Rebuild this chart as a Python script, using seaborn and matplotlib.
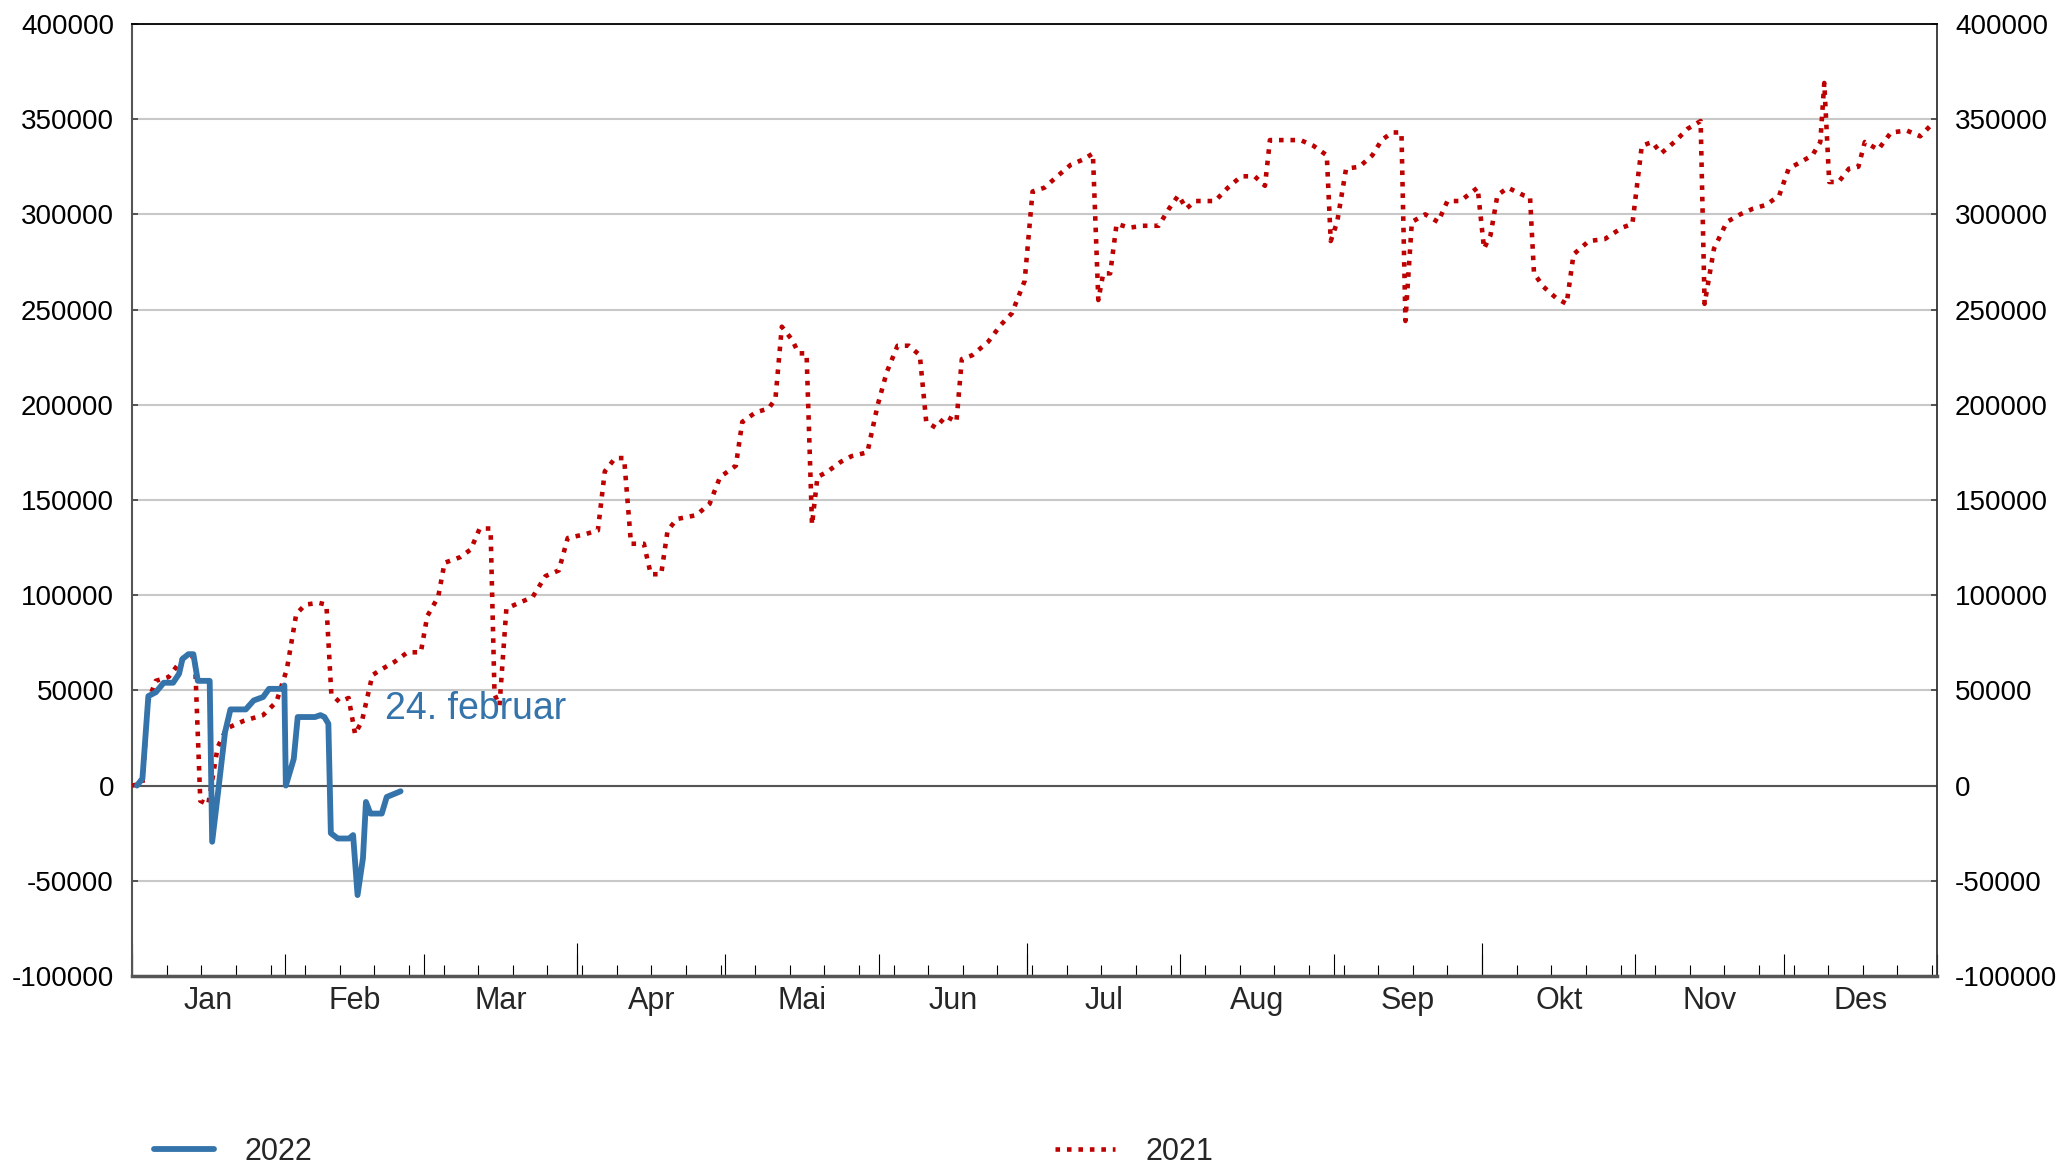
import numpy as np
import pandas as pd
import seaborn as sns
import matplotlib.pyplot as plt

# day of year (0 = 1 Jan) and cumulative value
days_2021 = [0, 2.1, 3.2, 4.8, 7.4, 10.6, 12.7, 13.8, 15.4, 17.3, 19.1, 22.6, 26.5, 29.2,
             31.3, 33.2, 35.0, 37.7, 39.3, 40.3, 41.9, 43.8, 45.1, 46.5, 48.6, 50.4, 53.1,
             55.7, 58.4, 59.7, 61.9, 63.2, 66.4, 68.5, 70.3, 72.5, 73.3, 74.3, 75.7, 78.3,
             81.0, 83.6, 86.3, 88.1, 91.6, 94.2, 95.6, 97.7, 99.5, 100.9, 103.5, 104.9,
             107.0, 108.3, 110.2, 114.1, 116.8, 118.9, 122.1, 123.4, 126.1, 128.7, 130.1,
             131.4, 133.5, 134.8, 136.4, 137.5, 138.6, 140.7, 143.3, 145.5, 148.7, 150.8,
             152.6, 154.8, 157.1, 159.3, 160.6, 162.5, 164.6, 166.7, 167.8, 169.9, 173.1,
             175.7, 177.9, 180.5, 182.1, 184.5, 187.1, 189.8, 192.5, 194.3, 195.4, 196.4,
             197.8, 199.1, 201.7, 204.4, 207.6, 209.7, 211.6, 213.2, 215.0, 219.0, 221.6,
             224.3, 227.0, 229.1, 230.1, 232.3, 236.3, 238.9, 241.6, 242.4, 243.7, 245.5,
             248.2, 250.8, 252.7, 254.8, 256.7, 257.5, 258.8, 261.5, 264.1, 266.0, 268.6,
             272.1, 273.4, 274.7, 276.1, 278.2, 281.4, 282.7, 283.5, 285.4, 288.0, 290.1,
             291.5, 294.6, 297.8, 301.3, 303.4, 305.3, 307.4, 309.2, 311.9, 314.6, 317.2,
             318.0, 319.9, 322.5, 325.2, 327.8, 330.5, 333.1, 335.0, 337.1, 339.8, 341.4,
             342.2, 343.2, 345.1, 347.2, 349.1, 350.4, 353.1, 355.7, 358.9, 361.6, 364.2]
values_2021 = [0, 1, 44, 55, 57, 68, 68, -8, -10, 20, 30, 34, 37, 44,
               61, 90, 95, 96, 95, 48, 44, 46, 27, 34, 58, 61, 65,
               70, 70, 89, 99, 117, 120, 124, 135, 135, 48, 42, 93, 96,
               99, 110, 113, 130, 132, 134, 165, 172, 172, 127, 127, 111,
               111, 134, 140, 142, 148, 162, 168, 191, 196, 198, 203,
               241, 234, 227, 227, 137, 162, 165, 170, 173, 175, 200,
               217, 231, 231, 226, 191, 188, 194, 191, 224, 226, 233,
               242, 248, 265, 312, 314, 320, 326, 329, 332, 255, 269,
               269, 295, 293, 294, 294, 303, 310, 303, 307, 307, 314,
               320, 320, 315, 339, 339, 339, 336, 331, 286, 296, 324,
               325, 331, 339, 343, 343, 244, 296, 300, 296, 307, 307,
               314, 282, 289, 310, 314, 310, 309, 269, 262, 256, 253,
               279, 286, 287, 293, 295, 336, 338, 332, 338, 345, 349,
               253, 282, 296, 300, 303, 305, 310, 324, 327, 331, 338,
               369, 317, 317, 324, 325, 338, 334, 343, 344, 341, 348]

days_2022 = [1, 2.1, 3.3, 4.8, 6.4, 8.3, 9.5, 10.2, 11.4, 12.4, 13.3, 15.7, 16.2, 17.4,
             18.8, 19.9, 23, 24.6, 26.5, 27.7, 30.4, 30.8, 31.1, 32.7, 33.5, 37, 38.1,
             38.9, 39.7, 40.2, 41.6, 43.9, 44.7, 45.6, 46.7, 47.3, 48.2, 50.5, 51.5, 54.3]
values_2022 = [0, 3.7, 47, 49, 54, 54, 58.7, 66.5, 69, 69, 55, 55, -29.5, -3.3,
               28, 40, 40, 44.7, 46.5, 50.8, 50.8, 52.6, 0, 14, 36, 36, 37,
               36, 32.5, -25, -27.8, -27.8, -26, -57.5, -38, -8.6, -14.7, -14.7, -6, -3]

months = ['Jan', 'Feb', 'Mar', 'Apr', 'Mai', 'Jun', 'Jul', 'Aug', 'Sep', 'Okt', 'Nov', 'Des']
month_starts = [0, 31, 59, 90, 120, 151, 181, 212, 243, 273, 304, 334, 365]

df21 = pd.DataFrame({'dag': days_2021, 'verdi': np.array(values_2021) * 1000})
df22 = pd.DataFrame({'dag': days_2022, 'verdi': np.array(values_2022) * 1000})

sns.set_style('white')
plt.rcParams['font.family'] = ['Liberation Sans', 'DejaVu Sans']
plt.rcParams['font.size'] = 20

blue = '#3574ab'
red = '#bd0000'

fig = plt.figure(figsize=(20.6, 11.68), dpi=100)
ax = fig.add_axes([0.0641, 0.1644, 0.8762, 0.8151])

ax.axhline(0, color='#555555', lw=1.5, zorder=1)
sns.lineplot(data=df22, x='dag', y='verdi', ax=ax, color=blue, lw=4.2, label='2022',
             zorder=4)
sns.lineplot(data=df21, x='dag', y='verdi', ax=ax, color=red, lw=3.3, label='2021',
             linestyle=(0, (1.0, 1.5)), zorder=3)

ax.text(51.2, 40000, '24. februar', color=blue, fontsize=27, va='center', ha='left')

ax.set_xlim(0, 365)
ax.set_ylim(-100000, 400000)
ax.set_yticks(np.arange(-100000, 400001, 50000))
ax.yaxis.set_major_formatter(plt.FuncFormatter(lambda v, p: f'{int(v)}'))
ax.grid(axis='y', color='#c8c8c8', lw=1.5, zorder=0)
ax.set_xlabel('')
ax.set_ylabel('')

ax.tick_params(axis='y', direction='in', length=4.3, width=1.1, color='#333333',
               left=True, right=True, labelleft=True, labelright=True, pad=13,
               labelsize=20, labelcolor='black')

# month boundaries, weekly minor ticks
ax.set_xticks(month_starts)
ax.set_xticklabels([])
ax.set_xticks(np.arange(7, 365, 7), minor=True)
ax.tick_params(axis='x', which='major', bottom=True, direction='in', length=15.8,
               width=0.8, color='black')
ax.tick_params(axis='x', which='minor', bottom=True, direction='in', length=7.9,
               width=0.8, color='black')

# quarter ticks
qax = ax.secondary_xaxis('bottom')
qax.set_xticks([0, 90, 181, 273])
qax.set_xticklabels([])
qax.tick_params(bottom=True, direction='in', length=23.8, width=0.8, color='black')
qax.spines['bottom'].set_visible(False)

# month names centred in each month
mid = [(a + b) / 2 for a, b in zip(month_starts[:-1], month_starts[1:])]
lax = ax.secondary_xaxis('bottom')
lax.set_xticks(mid)
lax.set_xticklabels(months)
lax.tick_params(length=0, pad=7, labelsize=22)
lax.spines['bottom'].set_visible(False)

ax.spines['top'].set_color('black')
ax.spines['top'].set_linewidth(1.3)
ax.spines['left'].set_color('#555555')
ax.spines['left'].set_linewidth(1.5)
ax.spines['right'].set_color('#333333')
ax.spines['right'].set_linewidth(1.3)
ax.spines['bottom'].set_color('#555555')
ax.spines['bottom'].set_linewidth(2.5)

handles, labels = ax.get_legend_handles_labels()
ax.get_legend().remove()
fig.legend(handles, labels, loc='center left', bbox_to_anchor=(0.0748, 0.0137),
           ncol=2, frameon=False, fontsize=22, handlelength=1.97, handletextpad=1.0,
           columnspacing=24.3, borderpad=0, borderaxespad=0)

fig.savefig('out.png', dpi=100)
